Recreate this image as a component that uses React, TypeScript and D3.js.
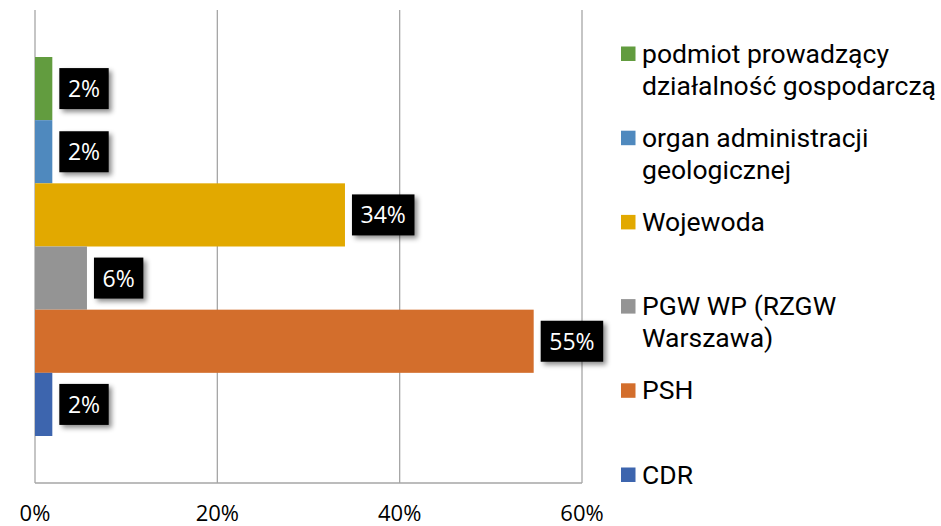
import React from "react";
import * as d3 from "d3";

const categories = [
  "podmiot prowadzący działalność gospodarczą",
  "organ administracji geologicznej",
  "Wojewoda",
  "PGW WP (RZGW Warszawa)",
  "PSH",
  "CDR",
];
const legendLines = [
  ["podmiot prowadzący", "działalność gospodarczą"],
  ["organ administracji", "geologicznej"],
  ["Wojewoda"],
  ["PGW WP (RZGW", "Warszawa)"],
  ["PSH"],
  ["CDR"],
];
const values = [1.9, 1.9, 34, 5.7, 54.7, 1.9];
const labels = ["2%", "2%", "34%", "6%", "55%", "2%"];
const colors = ["#629c3f", "#4f89be", "#e2a900", "#949494", "#d36e2c", "#3d65ae"];
const xTicks = [0, 20, 40, 60];
const xTickLabels = ["0%", "20%", "40%", "60%"];

const W = 941;
const H = 526;
const plotTop = 10;
const plotBottom = 483;

export default function App() {
  const x = d3.scaleLinear().domain([0, 60]).range([35, 582]);
  const y = d3.scaleBand<string>().domain(categories).range([57, 436]).padding(0);
  const legendY = d3.scalePoint<string>().domain(categories).range([62.5, 483.5]);
  const labelFont = 23;
  const charW = (c: string) => (c === "%" ? 0.837 : 0.571) * labelFont;
  const textW = (s: string) => s.split("").reduce((a, c) => a + charW(c), 0);

  return (
    <svg width={W} height={H} style={{ position: "absolute", left: 0, top: 0, background: "#fff" }}>
      <defs>
        <filter id="sh" x="-30%" y="-30%" width="170%" height="170%">
          <feDropShadow dx="3" dy="3" stdDeviation="2.5" floodColor="#000" floodOpacity="0.45" />
        </filter>
      </defs>
      {xTicks.map((t) => (
        <line key={t} x1={x(t)} x2={x(t)} y1={plotTop} y2={plotBottom} stroke="#a6a6a6" strokeWidth={1.3} />
      ))}
      <line x1={x(0)} x2={x(60)} y1={plotBottom} y2={plotBottom} stroke="#a6a6a6" strokeWidth={1.3} />
      {categories.map((c, i) => (
        <rect key={c} x={x(0)} y={y(c)} width={x(values[i]) - x(0)} height={y.bandwidth()} fill={colors[i]} />
      ))}
      {categories.map((c, i) => {
        const cy = (y(c) as number) + y.bandwidth() / 2;
        const tw = textW(labels[i]);
        const bw = tw + 17;
        const bx = x(values[i]) + 7;
        return (
          <g key={c}>
            <rect x={bx} y={cy - 20.5} width={bw} height={41} fill="#000" filter="url(#sh)" />
            <text x={bx + bw / 2} y={cy + 8.5} textAnchor="middle" fill="#fff"
              style={{ fontFamily: "'Open Sans', sans-serif", fontSize: labelFont }}>
              {labels[i]}
            </text>
          </g>
        );
      })}
      {xTicks.map((t, i) => (
        <text key={t} x={x(t)} y={521} textAnchor="middle" fill="#000"
          style={{ fontFamily: "'Open Sans', sans-serif", fontSize: 22 }}>
          {xTickLabels[i]}
        </text>
      ))}
      {categories.map((c, i) => {
        const by = legendY(c) as number;
        return (
          <g key={c}>
            <rect x={621} y={by - 16} width={14.5} height={14.5} fill={colors[i]} />
            {legendLines[i].map((ln, j) => (
              <text key={j} x={642} y={by + j * 32} fill="#000"
                style={{ fontFamily: "Roboto, sans-serif", fontSize: 26.5 }}>
                {ln}
              </text>
            ))}
          </g>
        );
      })}
    </svg>
  );
}
